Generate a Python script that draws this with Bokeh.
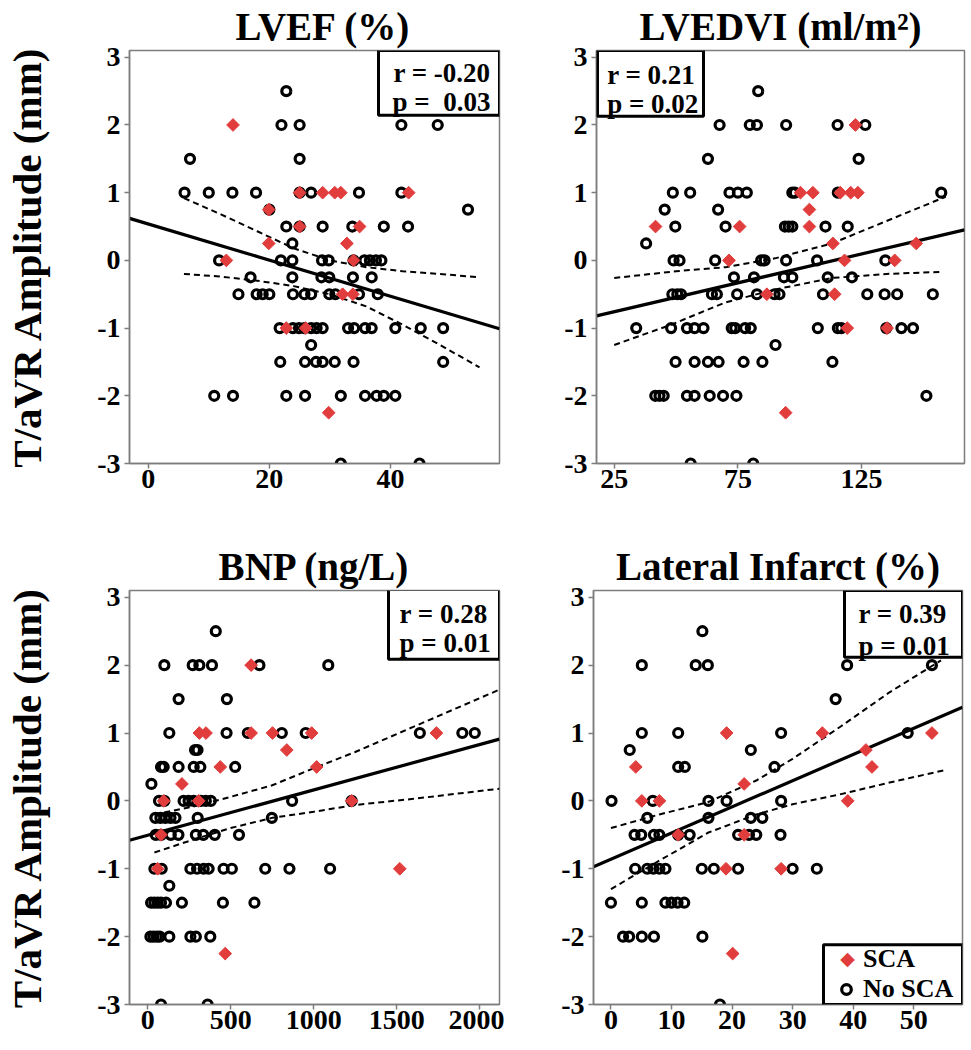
from bokeh.plotting import figure
from bokeh.models import Range1d, FixedTicker, Label, BoxAnnotation, Legend, LegendItem
from bokeh.layouts import row, column
from bokeh.embed import file_html
from bokeh.resources import INLINE

# ---------------- data ----------------
y_ticks = [-3, -2, -1, 0, 1, 2, 3]
y_tick_text = {-3: "-3", -2: "-2", -1: "-1"}

# Panel A: LVEF (%)
lvef_ticks = [0, 20, 40]
lvef_no_x = [22.8,
             22, 25, 41.8, 47.8,
             6.9, 25,
             6, 10, 13.9, 17.8, 25, 26.9, 34.8, 41.8,
             20, 52.8,
             22.8, 25, 28.8, 33.7, 38.9, 42.9,
             23.8,
             11.7, 21.9, 23.8, 28.7, 29.8, 33.9, 35.7, 36.6, 37.6, 38.5,
             16.9, 23.8, 28.6, 29.9, 33.8, 36.9,
             14.9, 17.9, 18.9, 20, 23.9, 25.8, 26.9, 29.9, 30.9, 34.8, 37.9,
             21.7, 23.9, 24.9, 25.8, 26.9, 27.8, 28.8, 33, 34, 35.8, 36.9, 40.8, 45, 48.7,
             26.9,
             21.8, 25.9, 27.7, 28.8, 30.8, 33.9, 48.7,
             10.9, 14, 22.8, 25.9, 31.8, 35.8, 37.7, 38.9, 40.8,
             31.8, 44.8]
lvef_no_y = [2.5,
             2, 2, 2, 2,
             1.5, 1.5,
             1, 1, 1, 1, 1, 1, 1, 1,
             0.75, 0.75,
             0.5, 0.5, 0.5, 0.5, 0.5, 0.5,
             0.25,
             0, 0, 0, 0, 0, 0, 0, 0, 0, 0,
             -0.25, -0.25, -0.25, -0.25, -0.25, -0.25,
             -0.5, -0.5, -0.5, -0.5, -0.5, -0.5, -0.5, -0.5, -0.5, -0.5, -0.5,
             -1, -1, -1, -1, -1, -1, -1, -1, -1, -1, -1, -1, -1, -1,
             -1.25,
             -1.5, -1.5, -1.5, -1.5, -1.5, -1.5, -1.5,
             -2, -2, -2, -2, -2, -2, -2, -2, -2,
             -3, -3]
lvef_sca_x = [14, 25, 28.8, 30.8, 31.8, 43, 19.9, 25, 34.9, 19.9, 32.8, 12.9, 33.9,
              32.1, 33.8, 22.8, 26, 29.8]
lvef_sca_y = [2, 1, 1, 1, 1, 1, 0.75, 0.5, 0.5, 0.25, 0.25, 0, 0,
              -0.5, -0.5, -1, -1, -2.25]
lvef_fit_x = [-3.09, 58.0]
lvef_fit_y = [0.62, -1.01]
lvef_ci_x = [5.9, 12, 18, 24, 30, 36, 42, 48, 54.7]
lvef_ci_hi = [0.92, 0.68, 0.43, 0.18, 0.0, -0.1, -0.16, -0.2, -0.25]
lvef_ci_lo = [-0.2, -0.24, -0.3, -0.38, -0.5, -0.68, -0.95, -1.24, -1.58]

# Panel B: LVEDVI (ml/m2)
lvedvi_ticks = [25, 75, 125]
lvedvi_no_x = [83.2,
               67.6, 79.8, 82.7, 94.5, 115.3, 126.5,
               62.9, 123.8,
               48.7, 55.7, 71.6, 75, 78.6, 97, 98, 115.4, 157.2,
               45.4, 67,
               49.7, 70, 94, 95.5, 97, 110.4, 119.4,
               37.9,
               49, 51.4, 65.8, 84.4, 85.8, 94.5, 107, 134.6,
               73.4, 81.5, 93.6, 97, 111.3, 121.1,
               48.5, 50.5, 52, 64.5, 66.5, 74.7, 82.7, 89.8, 91.8, 109.4, 127.3, 134.3, 139.4, 153.8,
               33.9, 48, 54.4, 57.5, 61.1, 72.5, 73.9, 77.9, 80.2, 107.3, 115.4, 116.8, 135, 141.1, 145.8,
               90.2,
               49.8, 57.5, 62.9, 67.2, 77.3, 84.9, 113.2,
               41.6, 43.3, 45, 54.4, 57.5, 63.6, 69, 74.4, 151.2,
               55.9, 81.2]
lvedvi_no_y = [2.5,
               2, 2, 2, 2, 2, 2,
               1.5, 1.5,
               1, 1, 1, 1, 1, 1, 1, 1, 1,
               0.75, 0.75,
               0.5, 0.5, 0.5, 0.5, 0.5, 0.5, 0.5,
               0.25,
               0, 0, 0, 0, 0, 0, 0, 0,
               -0.25, -0.25, -0.25, -0.25, -0.25, -0.25,
               -0.5, -0.5, -0.5, -0.5, -0.5, -0.5, -0.5, -0.5, -0.5, -0.5, -0.5, -0.5, -0.5, -0.5,
               -1, -1, -1, -1, -1, -1, -1, -1, -1, -1, -1, -1, -1, -1, -1,
               -1.25,
               -1.5, -1.5, -1.5, -1.5, -1.5, -1.5, -1.5,
               -2, -2, -2, -2, -2, -2, -2, -2, -2,
               -3, -3]
lvedvi_sca_x = [122.5, 100.3, 105.3, 116.4, 120.6, 123.5, 103.9, 41.7, 75.7, 103.9,
                113.4, 147.1, 71.4, 118.1, 138.4, 86.7, 114.1, 119.2, 135.3, 94.3]
lvedvi_sca_y = [2, 1, 1, 1, 1, 1, 0.75, 0.5, 0.5, 0.5,
                0.25, 0.25, 0, 0, 0, -0.5, -0.5, -1, -1, -2.25]
lvedvi_fit_x = [17.84, 166.6]
lvedvi_fit_y = [-0.82, 0.45]
lvedvi_hi_x = [25, 50, 70, 90, 113, 135, 159]
lvedvi_ci_hi = [-0.26, -0.16, -0.1, 0.03, 0.25, 0.58, 0.94]
lvedvi_lo_x = [25, 48, 70, 90, 113, 135, 157]
lvedvi_ci_lo = [-1.25, -0.95, -0.62, -0.43, -0.26, -0.2, -0.17]

# Panel C: BNP (ng/L)
bnp_ticks = [0, 500, 1000, 1500, 2000]
bnp_no_x = [410,
            100, 271, 311, 387, 673, 1088,
            186, 477,
            130, 475, 603, 808, 952, 1640, 1896, 1971,
            285, 300,
            80, 96, 186, 277, 317, 527,
            22,
            68, 100, 216, 246, 277, 320, 350, 380, 870, 1229,
            46, 76, 106, 137, 167, 301, 748,
            48, 80, 139, 185, 290, 335, 404, 550,
            40, 84, 257, 297, 337, 367, 457, 507, 708, 854, 1099,
            130,
            20, 40, 60, 80, 110, 206, 453, 643,
            16, 35, 55, 72, 130, 257, 290, 377,
            80, 361]
bnp_no_y = [2.5,
            2, 2, 2, 2, 2, 2,
            1.5, 1.5,
            1, 1, 1, 1, 1, 1, 1, 1,
            0.75, 0.75,
            0.5, 0.5, 0.5, 0.5, 0.5, 0.5,
            0.25,
            0, 0, 0, 0, 0, 0, 0, 0, 0, 0,
            -0.25, -0.25, -0.25, -0.25, -0.25, -0.25, -0.25,
            -0.5, -0.5, -0.5, -0.5, -0.5, -0.5, -0.5, -0.5,
            -1, -1, -1, -1, -1, -1, -1, -1, -1, -1, -1,
            -1.25,
            -1.5, -1.5, -1.5, -1.5, -1.5, -1.5, -1.5, -1.5,
            -2, -2, -2, -2, -2, -2, -2, -2,
            -3, -3]
bnp_sca_x = [623, 311, 351, 623, 752, 988, 1740, 838, 437, 1018, 206, 96, 307, 1229,
             80, 60, 1519, 467]
bnp_sca_y = [2, 1, 1, 1, 1, 1, 1, 0.75, 0.5, 0.5, 0.25, 0, 0, 0,
             -0.5, -1, -1, -2.25]
bnp_fit_x = [-110, 2120]
bnp_fit_y = [-0.58, 0.91]
bnp_ci_x = [40, 300, 500, 750, 1000, 1250, 1600, 2120]
bnp_ci_hi = [-0.2, -0.07, 0.06, 0.23, 0.48, 0.72, 1.09, 1.64]
bnp_ci_lo = [-0.76, -0.55, -0.40, -0.25, -0.16, -0.06, 0.03, 0.18]

# Panel D: Lateral Infarct (%)
lat_ticks = [0, 10, 20, 30, 40, 50]
lat_no_x = [15.1,
            5.1, 14, 16, 39, 53,
            37.1,
            5.1, 11.1, 28.1, 49,
            3.1, 23.1,
            11.1, 12.2, 27,
            0.1, 6.9, 16.1, 19.1, 28.1,
            6, 16.1, 23.1, 25,
            3.9, 5, 7.1, 8, 11.1, 13, 21, 22.8, 24, 28,
            4, 6, 7, 8, 9, 15, 17, 21, 30, 34,
            0, 5.1, 9, 10, 11, 12.1,
            2, 3, 5.1, 7.1, 15.1,
            18]
lat_no_y = [2.5,
            2, 2, 2, 2, 2,
            1.5,
            1, 1, 1, 1,
            0.75, 0.75,
            0.5, 0.5, 0.5,
            0, 0, 0, 0, 0,
            -0.25, -0.25, -0.25, -0.25,
            -0.5, -0.5, -0.5, -0.5, -0.5, -0.5, -0.5, -0.5, -0.5, -0.5,
            -1, -1, -1, -1, -1, -1, -1, -1, -1, -1,
            -1.5, -1.5, -1.5, -1.5, -1.5, -1.5,
            -2, -2, -2, -2, -2,
            -3]
lat_sca_x = [19.1, 34.9, 53, 42.1, 4.1, 43.1, 22, 5.1, 8, 39.1, 11.1, 22, 19, 28.1, 20.1]
lat_sca_y = [1, 1, 1, 0.75, 0.5, 0.5, 0.25, 0, 0, 0, -0.5, -0.5, -1, -1, -2.25]
lat_fit_x = [-2.88, 58.05]
lat_fit_y = [-0.97, 1.38]
lat_hi_x = [0, 8, 16, 24, 30, 38, 46, 54.5]
lat_ci_hi = [-0.4, -0.2, -0.02, 0.3, 0.62, 1.1, 1.6, 2.07]
lat_lo_x = [0, 8, 16, 24, 30, 38, 46, 55]
lat_ci_lo = [-1.3, -0.88, -0.47, -0.2, -0.05, 0.1, 0.27, 0.45]

titles = ["LVEF (%)", "LVEDVI (ml/m\u00b2)", "BNP (ng/L)", "Lateral Infarct (%)"]
stats = [("r = -0.20", "p =\u00a0\u00a00.03"), ("r = 0.21", "p = 0.02"),
         ("r = 0.28", "p = 0.01"), ("r = 0.39", "p = 0.01")]
y_label = "T/aVR Amplitude (mm)"
legend_labels = ["SCA", "No SCA"]

# ---------------- style ----------------
FONT = "Liberation Serif"
RED = "#E23D3D"
GRAY = "#7d7d7d"
Y0, Y1 = -3.0, 3.1
FRAME = {}


def make_panel(name, w, h, bl, br, bt, bb, xr, ticks, title, ylab, talign="center", toff=0):
    p = figure(width=w, height=h, output_backend="svg", toolbar_location=None,
               x_range=Range1d(*xr), y_range=Range1d(Y0, Y1),
               min_border_left=bl, min_border_right=br,
               min_border_top=bt, min_border_bottom=bb)
    p.title.text = title
    p.title.align = talign
    p.title.offset = toff
    p.title.text_font = FONT
    p.title.text_font_style = "bold"
    p.title.text_font_size = "39px"
    p.title.text_color = "black"
    p.title.standoff = 5
    p.grid.visible = False
    p.background_fill_color = "white"
    p.border_fill_color = "white"
    p.outline_line_color = GRAY
    p.outline_line_width = 1.5
    p.xaxis.ticker = FixedTicker(ticks=ticks)
    p.yaxis.ticker = FixedTicker(ticks=y_ticks)
    p.yaxis.major_label_overrides = y_tick_text
    for ax in (p.xaxis[0], p.yaxis[0]):
        ax.axis_line_color = GRAY
        ax.axis_line_width = 1.5
        ax.major_tick_line_color = GRAY
        ax.major_tick_line_width = 1.5
        ax.major_tick_out = 5
        ax.major_tick_in = 0
        ax.minor_tick_line_color = None
        ax.major_label_text_font = FONT
        ax.major_label_text_font_style = "bold"
        ax.major_label_text_font_size = "28px"
        ax.major_label_text_color = "black"
    p.xaxis.major_label_standoff = 1
    p.yaxis.major_label_standoff = 4
    if ylab:
        p.yaxis.axis_label = ylab
        p.yaxis.axis_label_text_font = FONT
        p.yaxis.axis_label_text_font_style = "bold"
        p.yaxis.axis_label_text_font_size = "41px"
        p.yaxis.axis_label_text_color = "black"
        p.yaxis.axis_label_standoff = 44
    FRAME[name] = (w - bl - br, h - bt - bb)
    return p


def to_data(p, name, fx, fy):
    fw, fh = FRAME[name]
    x0, x1 = p.x_range.start, p.x_range.end
    return (x0 + fx * (x1 - x0) / fw, Y1 - fy * (Y1 - Y0) / fh)


def frame_box(p, name, box):
    l, t = to_data(p, name, box[0], box[1])
    r, b = to_data(p, name, box[2], box[3])
    p.add_layout(BoxAnnotation(left=l, right=r, top=t, bottom=b,
                               fill_color="white", fill_alpha=1,
                               line_color="black", line_width=3, line_alpha=1))


def stat_box(p, name, st, box, tx, align, ty):
    frame_box(p, name, box)
    for s, yy in zip(st, ty):
        lx, ly = to_data(p, name, tx, yy)
        p.add_layout(Label(x=lx, y=ly, text=s, text_align=align,
                           text_baseline="alphabetic", text_font=FONT,
                           text_font_style="bold", text_font_size="27px",
                           text_color="black"))


def draw(p, nx, ny, sx, sy, fx, fy, hx, hy, lx, ly):
    rn = p.scatter(nx, ny, marker="circle", size=9, fill_color=None,
                   line_color="black", line_width=3.2)
    p.line(fx, fy, line_color="black", line_width=3.2)
    p.line(hx, hy, line_color="black", line_width=2, line_dash="6 4")
    p.line(lx, ly, line_color="black", line_width=2, line_dash="6 4")
    rs = p.scatter(sx, sy, marker="square", angle=0.785398, size=9,
                   fill_color=RED, line_color=RED, line_width=1)
    return rn, rs


p1 = make_panel("a", 504, 525, 129, 5, 48, 62, (-3.09, 58.0), lvef_ticks, titles[0], y_label,
                "left", 106)
p2 = make_panel("b", 465, 525, 92, 5, 48, 62, (17.84, 166.6), lvedvi_ticks, titles[1], None)
p3 = make_panel("c", 504, 523, 129, 5, 64, 44, (-110, 2120), bnp_ticks, titles[2], y_label)
p4 = make_panel("d", 465, 523, 89, 7, 65, 43, (-2.88, 58.05), lat_ticks, titles[3], None)

draw(p1, lvef_no_x, lvef_no_y, lvef_sca_x, lvef_sca_y, lvef_fit_x, lvef_fit_y,
     lvef_ci_x, lvef_ci_hi, lvef_ci_x, lvef_ci_lo)
draw(p2, lvedvi_no_x, lvedvi_no_y, lvedvi_sca_x, lvedvi_sca_y, lvedvi_fit_x, lvedvi_fit_y,
     lvedvi_hi_x, lvedvi_ci_hi, lvedvi_lo_x, lvedvi_ci_lo)
draw(p3, bnp_no_x, bnp_no_y, bnp_sca_x, bnp_sca_y, bnp_fit_x, bnp_fit_y,
     bnp_ci_x, bnp_ci_hi, bnp_ci_x, bnp_ci_lo)
rn4, rs4 = draw(p4, lat_no_x, lat_no_y, lat_sca_x, lat_sca_y, lat_fit_x, lat_fit_y,
                lat_hi_x, lat_ci_hi, lat_lo_x, lat_ci_lo)

stat_box(p1, "a", stats[0], (249, 0, 370, 65), 361, "right", (23, 52))
stat_box(p2, "b", stats[1], (1, 0, 107, 66), 10.7, "left", (24.7, 53.7))
stat_box(p3, "c", stats[2], (259, -1, 370, 69), 270, "left", (24, 53))
stat_box(p4, "d", stats[3], (251, 0, 369, 67), 265, "left", (24, 56))

# legend: framed box, diamond character for SCA, legend entries on top
fw4, fh4 = FRAME["d"]
frame_box(p4, "d", (fw4 - 139, fh4 - 60, fw4, fh4))
dx, dy = to_data(p4, "d", fw4 - 139 + 24, fh4 - 60 + 13)
p4.add_layout(Label(x=dx, y=dy, text="\u25c6", text_align="center", text_baseline="middle",
                    text_font="DejaVu Sans", text_font_size="19px", text_color=RED))
blank = p4.scatter([], [], marker="circle", size=0, fill_alpha=0, line_alpha=0)
legend = Legend(items=[LegendItem(label=legend_labels[0], renderers=[blank]),
                       LegendItem(label=legend_labels[1], renderers=[rn4])],
                location=(fw4 - 133, 0), margin=0, padding=0, spacing=0,
                glyph_width=34, glyph_height=24, label_height=30, label_width=99,
                label_standoff=0,
                border_line_color=None, background_fill_alpha=0,
                label_text_font=FONT, label_text_font_style="bold",
                label_text_font_size="26px", label_text_color="black")
p4.add_layout(legend, "center")

layout = column(row(p1, p2, spacing=0), row(p3, p4, spacing=0), spacing=0)

open("out.html", "w").write(file_html(layout, INLINE))
